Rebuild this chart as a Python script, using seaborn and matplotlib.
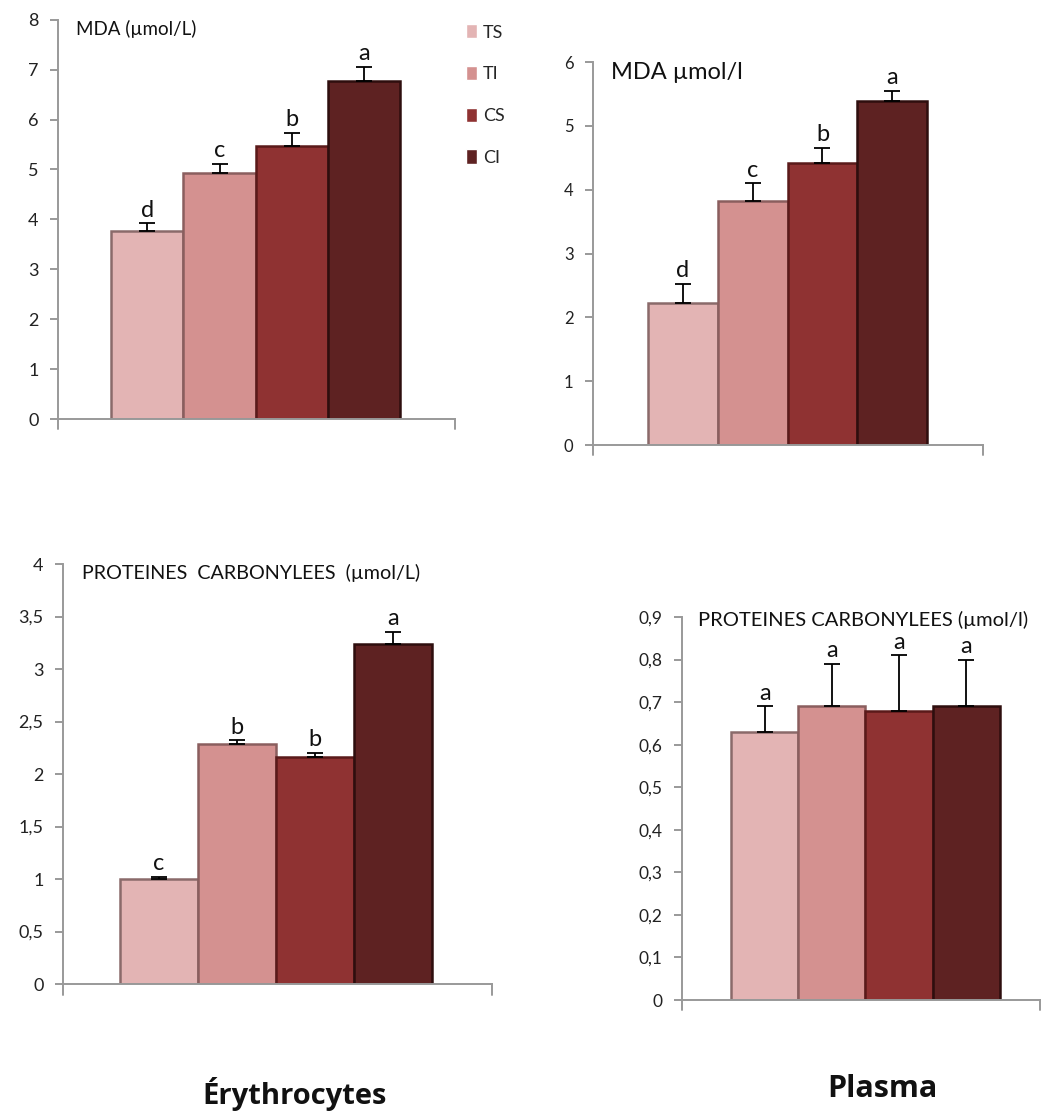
import numpy as np
import pandas as pd
import matplotlib
matplotlib.use("Agg")
import matplotlib.pyplot as plt
import seaborn as sns

sns.set_style("white")
plt.rcParams['font.family'] = ['Lato', 'DejaVu Sans']

# groups and colours
groups = ["TS", "TI", "CS", "CI"]
colours = ["#e3b4b4", "#d49190", "#8f3232", "#5e2222"]
edges = ["#8a6a6a", "#8a5e5e", "#5a1a1a", "#2e0e0e"]

# MDA erythrocytes
mda_ery = [3.76, 4.92, 5.48, 6.78]
mda_ery_err = [0.16, 0.19, 0.25, 0.28]
mda_ery_sig = ["d", "c", "b", "a"]

# MDA plasma
mda_pla = [2.22, 3.82, 4.42, 5.39]
mda_pla_err = [0.31, 0.28, 0.24, 0.16]
mda_pla_sig = ["d", "c", "b", "a"]

# proteines carbonylees erythrocytes
pc_ery = [1.0, 2.29, 2.16, 3.24]
pc_ery_err = [0.02, 0.03, 0.04, 0.11]
pc_ery_sig = ["c", "b", "b", "a"]

# proteines carbonylees plasma
pc_pla = [0.63, 0.69, 0.68, 0.69]
pc_pla_err = [0.06, 0.10, 0.13, 0.11]
pc_pla_sig = ["a", "a", "a", "a"]

fig = plt.figure(figsize=(10.43, 11.12), dpi=100)

panels = [
    # values, errors, letters, title, yticks, ticklabels, rect, xlim, title size, tick size, title y
    (mda_ery, mda_ery_err, mda_ery_sig, "MDA (µmol/L)",
     np.arange(0, 9, 1), [str(i) for i in range(9)],
     [0.0556, 0.6232, 0.381, 0.359], (-1.233, 4.261), 13.5, 13, 1.0),
    (mda_pla, mda_pla_err, mda_pla_sig, "MDA µmol/l",
     np.arange(0, 7, 1), [str(i) for i in range(7)],
     [0.5686, 0.5998, 0.374, 0.3444], (-1.289, 4.303), 17, 12, 1.0),
    (pc_ery, pc_ery_err, pc_ery_sig, "PROTEINES  CARBONYLEES  (µmol/L)",
     np.arange(0, 4.01, 0.5), ["0", "0,5", "1", "1,5", "2", "2,5", "3", "3,5", "4"],
     [0.0604, 0.1151, 0.411, 0.3777], (-1.231, 4.269), 14.2, 13, 1.0),
    (pc_pla, pc_pla_err, pc_pla_sig, "PROTEINES CARBONYLEES (µmol/l)",
     np.arange(0, 0.91, 0.1), ["0", "0,1", "0,2", "0,3", "0,4", "0,5", "0,6", "0,7", "0,8", "0,9"],
     [0.6539, 0.1007, 0.343, 0.3444], (-1.229, 4.095), 14.5, 12.5, 1.015),
]

for i, (vals, errs, sig, title, yt, ytl, rect, xl, tsize, ksize, ty) in enumerate(panels):
    ax = fig.add_axes(rect)
    df = pd.DataFrame({"group": groups, "value": vals})
    sns.barplot(data=df, x="group", y="value", hue="group", palette=colours,
                saturation=1, width=1.0, dodge=False, legend=(i == 0), ax=ax)
    for p, ec in zip(ax.patches, edges):
        p.set_edgecolor(ec)
        p.set_linewidth(1.8)
    ax.errorbar(range(4), vals, yerr=[[0] * 4, errs], fmt="none",
                ecolor="black", elinewidth=1.3, capsize=6, capthick=1.3)
    top = max(yt)
    for x, v, e, s in zip(range(4), vals, errs, sig):
        ax.annotate(s, (x, v + e), xytext=(0, 2), textcoords="offset points",
                    ha="center", va="bottom", fontsize=17, color="#111111")
    ax.set_ylim(0, top)
    ax.set_xlim(*xl)
    ax.set_yticks(yt)
    ax.set_yticklabels(ytl, fontsize=ksize, color="#222222")
    ax.set_xticks([])
    ax.set_xlabel("")
    ax.set_ylabel("")
    for side in ["top", "right"]:
        ax.spines[side].set_visible(False)
    for side in ["left", "bottom"]:
        ax.spines[side].set_color("#999999")
        ax.spines[side].set_linewidth(1.4)
    ax.tick_params(axis="y", length=6, color="#999999", width=1.4, left=True, pad=8)
    # end ticks of the category axis
    ax.plot([xl[1], xl[1]], [0, -top * 0.025], color="#999999", lw=1.4, clip_on=False)
    ax.plot([xl[0], xl[0]], [0, -top * 0.025], color="#999999", lw=1.4, clip_on=False)
    ax.text(0.045, ty, title, transform=ax.transAxes, ha="left", va="top",
            fontsize=tsize, color="#111111")
    if i == 0:
        sns.move_legend(ax, "upper left", bbox_to_anchor=(0.985, 1.03), frameon=False,
                        title=None, fontsize=13, labelspacing=1.4,
                        handlelength=0.65, handleheight=0.85, handletextpad=0.3)

fig.text(0.282, 0.0075, "Érythrocytes", ha="center", va="baseline",
         fontsize=21, fontweight="bold", color="#111111", family="Open Sans")
fig.text(0.846, 0.0135, "Plasma", ha="center", va="baseline",
         fontsize=22, fontweight="bold", color="#111111", family="Open Sans")

fig.savefig("out.png", dpi=100, facecolor="white")
